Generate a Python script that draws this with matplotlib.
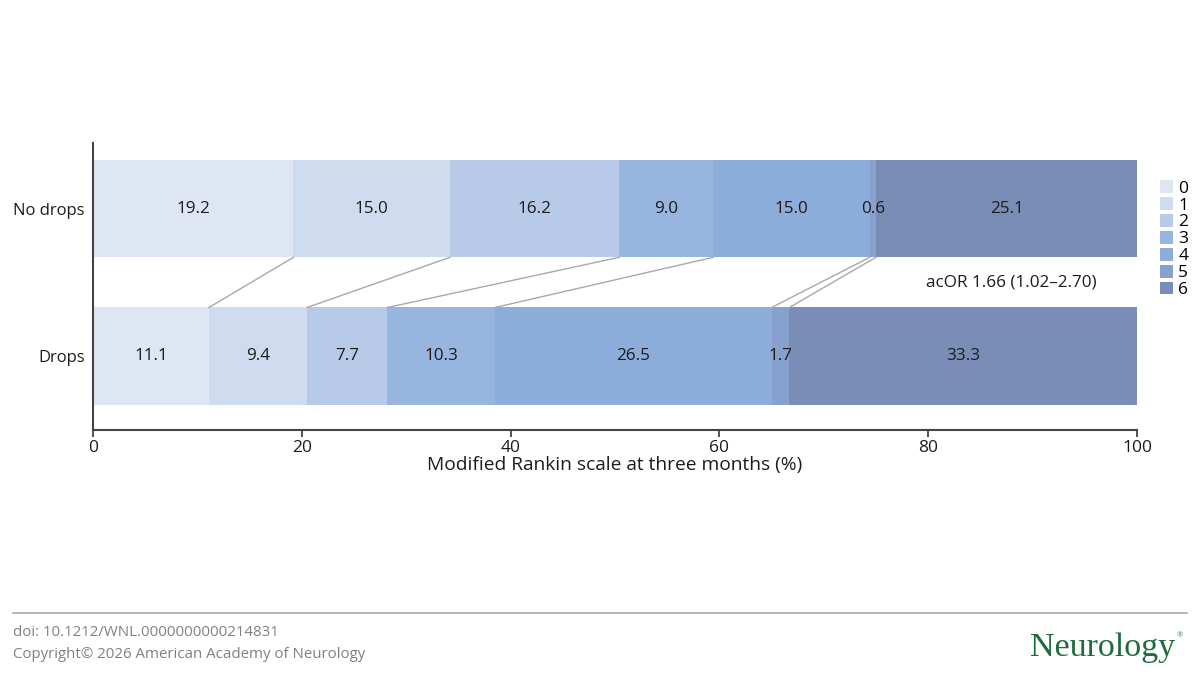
import numpy as np
import matplotlib.pyplot as plt
from matplotlib.patches import Patch

plt.rcParams['font.family'] = ['Open Sans', 'DejaVu Sans']

# mRS distribution (%) per group
groups = ['Drops', 'No drops']
no_drops = [19.2, 15.0, 16.2, 9.0, 15.0, 0.6, 25.1]
drops = [11.1, 9.4, 7.7, 10.3, 26.5, 1.7, 33.3]
mrs_labels = ['0', '1', '2', '3', '4', '5', '6']
colors = ['#dee6f3', '#cfdbee', '#b7cbe9', '#98b5e0', '#8cadda', '#87a1cf', '#7a8db7']
acor_text = 'acOR 1.66 (1.02\u20132.70)'

fig = plt.figure(figsize=(12, 6.75), dpi=100)
ax = fig.add_axes([0.0775, 0.363, 0.87, 0.425])

bar_h = 0.66
rows = {0: drops, 1: no_drops}
for ypos, vals in rows.items():
    left = 0
    for i, v in enumerate(vals):
        ax.barh(ypos, v, left=left, height=bar_h, color=colors[i], edgecolor='none')
        ax.text(left + v / 2, ypos, f'{v:.1f}', ha='center', va='center',
                fontsize=12.3, color='#1c1c1c')
        left += v

# connecting lines between cumulative boundaries
cum_top = np.cumsum(no_drops)[:-1]
cum_bot = np.cumsum(drops)[:-1]
for a, b in zip(cum_top, cum_bot):
    ax.plot([a, b], [1 - bar_h / 2, bar_h / 2], color='#a8a8a8', lw=1, zorder=1)

ax.text(96.1, 0.5, acor_text, ha='right', va='center', fontsize=12.3, color='#1c1c1c')

ax.set_xlim(0, 100)
ax.set_ylim(-0.50, 1.444)
ax.set_xticks([0, 20, 40, 60, 80, 100])
ax.set_yticks([0, 1])
ax.set_yticklabels(groups)
ax.tick_params(axis='y', length=0, labelsize=12, pad=6, labelcolor='#1c1c1c')
ax.tick_params(axis='x', length=5, width=1.3, color='#444444', labelsize=12.5,
               labelcolor='#1c1c1c', pad=2)
ax.set_xlabel('Modified Rankin scale at three months (%)', fontsize=13.8,
              color='#1c1c1c', labelpad=0)
for s in ['top', 'right']:
    ax.spines[s].set_visible(False)
for s in ['left', 'bottom']:
    ax.spines[s].set_color('#444444')
    ax.spines[s].set_linewidth(1.5)

handles = [Patch(facecolor=c, edgecolor='none') for c in colors]
ax.legend(handles, mrs_labels, loc='upper left', bbox_to_anchor=(1.0155, 0.895),
          frameon=False, handlelength=0.75, handleheight=0.75, handletextpad=0.3,
          labelspacing=0.03, fontsize=12.5, borderaxespad=0)

# footer
fig.add_artist(plt.Line2D([13 / 1200, 1187 / 1200], [1 - 613 / 675] * 2,
                          color='#a8a8a8', lw=1.2))
fig.text(13 / 1200, 1 - 633 / 675, 'doi: 10.1212/WNL.0000000000214831',
         fontsize=10.8, color='#808080', va='center')
fig.text(13 / 1200, 1 - 655 / 675, 'Copyright\u00a9 2026 American Academy of Neurology',
         fontsize=10.8, color='#808080', va='center')
fig.text(1175 / 1200, 1 - 648 / 675, 'Neurology', family='Liberation Serif',
         fontsize=24.5, color='#1d6b3f', ha='right', va='center')
fig.text(1180 / 1200, 1 - 635 / 675, '\u00ae', family='Liberation Serif',
         fontsize=6, color='#1d6b3f', ha='center', va='center')

fig.savefig('out.png', dpi=100)
